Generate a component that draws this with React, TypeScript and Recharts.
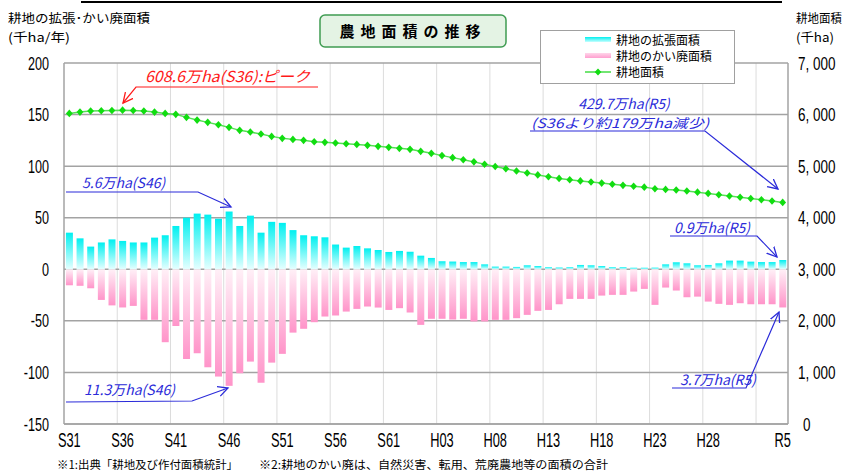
import React from 'react';
import { ComposedChart, Bar, Line, XAxis, YAxis, CartesianGrid, Legend } from 'recharts';

const categories = [
  'S31','S32','S33','S34','S35','S36','S37','S38','S39','S40',
  'S41','S42','S43','S44','S45','S46','S47','S48','S49','S50',
  'S51','S52','S53','S54','S55','S56','S57','S58','S59','S60',
  'S61','S62','S63','H01','H02','H03','H04','H05','H06','H07',
  'H08','H09','H10','H11','H12','H13','H14','H15','H16','H17',
  'H18','H19','H20','H21','H22','H23','H24','H25','H26','H27',
  'H28','H29','H30','R1','R2','R3','R4','R5',
];

const expansion = [
  35.5, 30, 22, 26, 29, 27.5, 26, 26, 30.7, 33,
  42, 50, 54, 53, 49, 56, 42, 52, 35.5, 46,
  45, 38, 33, 32, 31, 24, 21, 22.6, 20.3, 18.7,
  16.8, 17.8, 17, 13.2, 11, 7.8, 7.5, 7, 7, 4.8,
  2.6, 2.6, 2.3, 3.9, 3.2, 2, 1.7, 2, 4.2, 3.9,
  3.2, 2, 2, 1.5, 1.5, 1.6, 4.8, 6.8, 5.8, 3.9,
  4.2, 5.8, 8.4, 8.4, 7.4, 7, 7, 9,
];

const abandonment = [
  -15.5, -16, -18.4, -29.7, -35, -37, -35.5, -49, -49, -70.7,
  -55, -87, -81.4, -95, -104, -113, -100.8, -89.5, -110, -90.5,
  -82, -61.4, -57.7, -51.3, -45.8, -44.8, -41, -38.4, -36.1, -37.1,
  -39.4, -37.7, -41.9, -53.9, -48, -48, -48.7, -48, -50.6, -50.6,
  -49, -49, -47.4, -44.2, -40.3, -39.4, -33.9, -28.7, -28.7, -28.7,
  -25.5, -24.8, -24.8, -21.6, -19, -34.5, -17.7, -20.6, -27.1, -26.5,
  -31.3, -33.5, -34.5, -32.9, -33.9, -33.9, -33.9, -37,
];

const farmland = [
  6023, 6048, 6068, 6074, 6080, 6086, 6080, 6068, 6048, 6023,
  6004, 5946, 5893, 5849, 5803, 5752, 5694, 5661, 5622, 5577,
  5539, 5519, 5500, 5473, 5461, 5448, 5434, 5422, 5403, 5384,
  5364, 5345, 5326, 5287, 5248, 5204, 5165, 5124, 5083, 5038,
  4994, 4949, 4905, 4866, 4830, 4794, 4762, 4736, 4714, 4692,
  4671, 4650, 4628, 4609, 4593, 4561, 4549, 4537, 4518, 4496,
  4471, 4444, 4420, 4397, 4372, 4349, 4325, 4297,
];

const xTicks = ['S31','S36','S41','S46','S51','S56','S61','H03','H08','H13','H18','H23','H28','R5'];
const leftTicks = [-150, -100, -50, 0, 50, 100, 150, 200];
const rightTicks = [0, 1000, 2000, 3000, 4000, 5000, 6000, 7000];
const seriesNames = ['耕地の拡張面積', '耕地のかい廃面積', '耕地面積'];

const rows = categories.map((c, i) => ({
  year: c,
  expand: expansion[i],
  abandon: abandonment[i],
  area: farmland[i],
}));

const NUM_FONT = '"Liberation Sans", Arial, sans-serif';
const JP_FONT = '"Noto Sans CJK JP", "Noto Sans", sans-serif';
const BLUE = '#2b2bd9';
const RED = '#ff1a1a';

const XTick = (props: any) => {
  const { x, y, payload } = props;
  return (
    <text transform={`translate(${x},${y + 15}) scale(0.64,1)`} textAnchor="middle" fontSize={20} fontFamily={NUM_FONT} fill="#000">
      {payload.value}
    </text>
  );
};

const LeftTick = (props: any) => {
  const { x, y, payload } = props;
  return (
    <text transform={`translate(${x},${y + 6.5}) scale(0.7,1)`} textAnchor="end" fontSize={18} fontFamily={NUM_FONT} fill="#000">
      {payload.value}
    </text>
  );
};

const fmtThousands = (v: number) => {
  if (v === 0) return '0';
  const s = String(v);
  return s.slice(0, s.length - 3) + ', ' + s.slice(s.length - 3);
};

const RightTick = (props: any) => {
  const { x, y, payload } = props;
  const isZero = payload.value === 0;
  return (
    <text transform={`translate(${x + (isZero ? 5 : 0)},${y + 6.5}) scale(0.75,1)`} textAnchor="start" fontSize={18} fontFamily={NUM_FONT} fill="#000">
      {fmtThousands(payload.value)}
    </text>
  );
};

const DiamondDot = (props: any) => {
  const { cx, cy, index } = props;
  if (cx == null || cy == null) return null;
  return <path key={`d${index}`} d={`M${cx},${cy - 3.8} L${cx + 3.4},${cy} L${cx},${cy + 3.8} L${cx - 3.4},${cy} Z`} fill="#11dd11" />;
};

const LegendBox = () => (
  <div style={{ width: 195, height: 54, border: '1px solid #a0a0a0', background: '#fff', boxSizing: 'border-box', fontFamily: JP_FONT, fontSize: 12.5, color: '#000' }}>
    <svg width={193} height={52} style={{ display: 'block' }}>
      <defs>
        <linearGradient id="lgPos" x1="0" y1="0" x2="0" y2="1">
          <stop offset="0" stopColor="#00efef" />
          <stop offset="1" stopColor="#c8ffff" />
        </linearGradient>
        <linearGradient id="lgNeg" x1="0" y1="0" x2="0" y2="1">
          <stop offset="0" stopColor="#ffd6ea" />
          <stop offset="1" stopColor="#ff9fcf" />
        </linearGradient>
      </defs>
      <rect x={44} y={6} width={26} height={5} fill="url(#lgPos)" />
      <text x={75} y={13.5} fontSize={12} fontFamily={JP_FONT}>{seriesNames[0]}</text>
      <rect x={44} y={22} width={26} height={5} fill="url(#lgNeg)" />
      <text x={75} y={29.5} fontSize={12} fontFamily={JP_FONT}>{seriesNames[1]}</text>
      <line x1={44} y1={41} x2={70} y2={41} stroke="#44dd44" strokeWidth={1.5} />
      <path d="M57,37.5 L60.3,41 L57,44.5 L53.7,41 Z" fill="#11dd11" />
      <text x={75} y={45.5} fontSize={12} fontFamily={JP_FONT}>{seriesNames[2]}</text>
    </svg>
  </div>
);

export default function App() {
  return (
    <div style={{ position: 'absolute', left: 0, top: 0, width: 845, height: 473, background: '#fff', overflow: 'hidden' }}>
      <ComposedChart
        width={845}
        height={473}
        data={rows}
        margin={{ top: 63, right: 0, bottom: 19, left: 0 }}
        stackOffset="sign"
        barCategoryGap="18%"
      >
        <defs>
          <linearGradient id="gPos" x1="0" y1="0" x2="0" y2="1">
            <stop offset="0" stopColor="#00f0f0" />
            <stop offset="1" stopColor="#e6ffff" />
          </linearGradient>
          <linearGradient id="gNeg" x1="0" y1="0" x2="0" y2="1">
            <stop offset="0" stopColor="#fff0f7" />
            <stop offset="1" stopColor="#ff94c9" />
          </linearGradient>
        </defs>
        <CartesianGrid
          xAxisId="x"
          yAxisId="left"
          horizontal={false}
          stroke="#dcdcdc"
          strokeWidth={1}
          verticalCoordinatesGenerator={({ offset }: any) =>
            [5, 10, 15, 20, 25, 30, 35, 40, 45, 50, 55, 60, 65].map((k) => offset.left + (k * offset.width) / categories.length)
          }
        />
        <CartesianGrid xAxisId="x" yAxisId="left" vertical={false} stroke="#a3a3a3" strokeWidth={1.5} />
        <XAxis
          xAxisId="x"
          dataKey="year"
          ticks={xTicks}
          interval={0}
          height={30}
          tickLine={false}
          axisLine={{ stroke: '#a3a3a3', strokeWidth: 1.5 }}
          tick={<XTick />}
        />
        <YAxis
          yAxisId="left"
          orientation="left"
          width={64}
          domain={[-150, 200]}
          ticks={leftTicks}
          interval={0}
          tickLine={false}
          tickSize={0}
          tickMargin={15}
          axisLine={{ stroke: '#a3a3a3', strokeWidth: 1.5 }}
          tick={<LeftTick />}
        />
        <YAxis
          yAxisId="right"
          orientation="right"
          width={57}
          domain={[0, 7000]}
          ticks={rightTicks}
          interval={0}
          tickLine={false}
          tickSize={0}
          tickMargin={10}
          axisLine={{ stroke: '#a3a3a3', strokeWidth: 1.5 }}
          tick={<RightTick />}
        />
        <Bar xAxisId="x" yAxisId="left" dataKey="expand" name={seriesNames[0]} stackId="s" fill="url(#gPos)" isAnimationActive={false} />
        <Bar xAxisId="x" yAxisId="left" dataKey="abandon" name={seriesNames[1]} stackId="s" fill="url(#gNeg)" isAnimationActive={false} />
        <Line xAxisId="x" yAxisId="right" dataKey="area" name={seriesNames[2]} type="linear" stroke="#55e055" strokeWidth={1.5} dot={<DiamondDot />} activeDot={false} isAnimationActive={false} />
        <Legend
          layout="horizontal"
          verticalAlign="middle"
          align="center"
          content={() => <LegendBox />}
          wrapperStyle={{ left: 540, top: 30, width: 195, height: 54 }}
        />
      </ComposedChart>

      <svg width={845} height={473} style={{ position: 'absolute', left: 0, top: 0, pointerEvents: 'none' }}>
        <defs>
          <marker id="arrB" markerWidth="12" markerHeight="12" refX="10" refY="6" orient="auto" markerUnits="userSpaceOnUse">
            <path d="M0,1 L10,6 L0,11" fill="none" stroke={BLUE} strokeWidth={1.3} />
          </marker>
          <marker id="arrR" markerWidth="12" markerHeight="12" refX="10" refY="6" orient="auto" markerUnits="userSpaceOnUse">
            <path d="M0,1 L10,6 L0,11" fill="none" stroke={RED} strokeWidth={1.3} />
          </marker>
        </defs>

        {/* cut-off top rule */}
        <line x1={81} y1={2} x2={782} y2={2} stroke="#000" strokeWidth={2} />

        {/* axis titles */}
        <text x={8} y={23} fontSize={12.5} fontFamily={JP_FONT} textLength={142} lengthAdjust="spacingAndGlyphs">耕地の拡張･かい廃面積</text>
        <text x={8} y={42} fontSize={12.5} fontFamily={JP_FONT} textLength={62} lengthAdjust="spacingAndGlyphs">(千ha/年)</text>
        <text x={796} y={23} fontSize={12} fontFamily={JP_FONT} textLength={46} lengthAdjust="spacingAndGlyphs">耕地面積</text>
        <text x={796} y={42} fontSize={12.5} fontFamily={JP_FONT} textLength={38} lengthAdjust="spacingAndGlyphs">(千ha)</text>

        {/* title box */}
        <rect x={320} y={15} width={186} height={32} rx={5} fill="#e4f3e4" stroke="#3f9c52" strokeWidth={1.5} />
        <text x={413} y={37} fontSize={15} fontWeight="bold" fontFamily={JP_FONT} textAnchor="middle" letterSpacing={6}>農地面積の推移</text>

        {/* red peak annotation */}
        <text x={145} y={82} fontSize={15} fontStyle="italic" fontFamily={JP_FONT} fill={RED} textLength={165} lengthAdjust="spacingAndGlyphs">608.6万ha(S36):ピーク</text>
        <polyline points="318,87 136,87 123,103" fill="none" stroke={RED} strokeWidth={1.2} markerEnd="url(#arrR)" />

        {/* R5 area annotation */}
        <text x={624} y={109} fontSize={14} fontStyle="italic" fontFamily={JP_FONT} fill={BLUE} textAnchor="middle">429.7万ha(R5)</text>
        <text x={620} y={128} fontSize={13} fontStyle="italic" fontFamily={JP_FONT} fill={BLUE} textAnchor="middle" textLength={178} lengthAdjust="spacingAndGlyphs">(S36より約179万ha減少)</text>
        <polyline points="530,131 705,131 778,189" fill="none" stroke={BLUE} strokeWidth={1.2} markerEnd="url(#arrB)" />

        {/* S46 expansion */}
        <text x={82} y={188} fontSize={14} fontStyle="italic" fontFamily={JP_FONT} fill={BLUE}>5.6万ha(S46)</text>
        <polyline points="66,192 198,192 231,207" fill="none" stroke={BLUE} strokeWidth={1.2} markerEnd="url(#arrB)" />

        {/* R5 expansion */}
        <text x={674} y={233} fontSize={14} fontStyle="italic" fontFamily={JP_FONT} fill={BLUE}>0.9万ha(R5)</text>
        <polyline points="670,236 757,236 777,257" fill="none" stroke={BLUE} strokeWidth={1.2} markerEnd="url(#arrB)" />

        {/* S46 abandonment */}
        <text x={84} y={395} fontSize={14} fontStyle="italic" fontFamily={JP_FONT} fill={BLUE}>11.3万ha(S46)</text>
        <polyline points="66,402 192,401 228,388" fill="none" stroke={BLUE} strokeWidth={1.2} markerEnd="url(#arrB)" />

        {/* R5 abandonment */}
        <text x={680} y={385} fontSize={14} fontStyle="italic" fontFamily={JP_FONT} fill={BLUE}>3.7万ha(R5)</text>
        <polyline points="672,388 746,388 779,312" fill="none" stroke={BLUE} strokeWidth={1.2} markerEnd="url(#arrB)" />

        {/* footnotes */}
        <text x={57} y={469} fontSize={11.5} fontFamily={JP_FONT} textLength={181} lengthAdjust="spacingAndGlyphs">※1:出典「耕地及び作付面積統計」</text>
        <text x={259} y={469} fontSize={11.5} fontFamily={JP_FONT} textLength={349} lengthAdjust="spacingAndGlyphs">※2:耕地のかい廃は、自然災害、転用、荒廃農地等の面積の合計</text>
      </svg>
    </div>
  );
}
